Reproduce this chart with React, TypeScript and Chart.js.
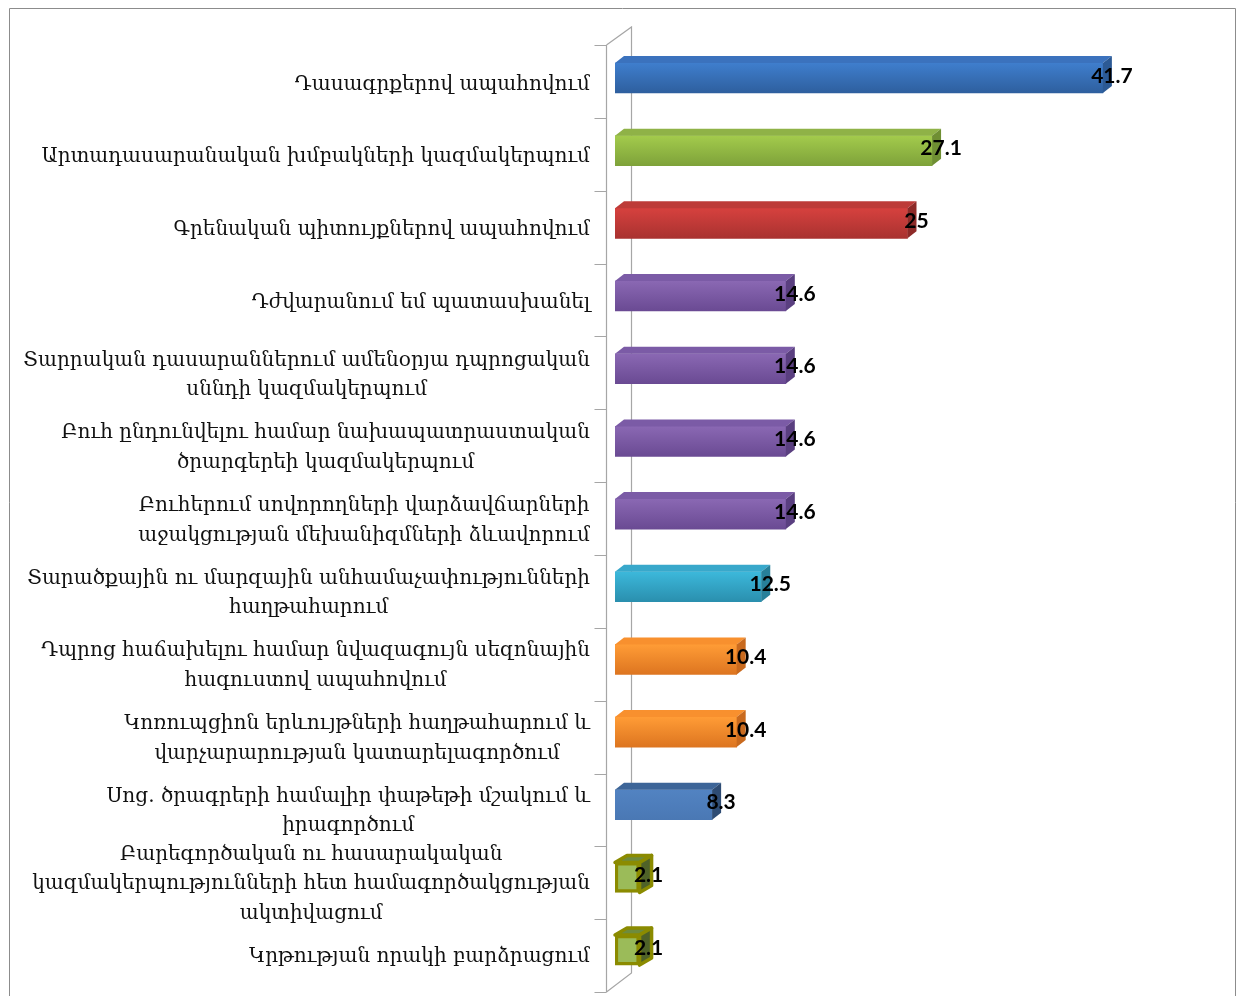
import React, { useEffect, useRef } from "react";
import { Chart, registerables } from "chart.js";

Chart.register(...registerables);

// ---- data ----
const categories: string[][] = [
  ["Դասագրքերով ապահովում"],
  ["Արտադասարանական խմբակների կազմակերպում"],
  ["Գրենական պիտույքներով ապահովում"],
  ["Դժվարանում եմ պատասխանել"],
  ["Տարրական դասարաններում ամենօրյա դպրոցական", "սննդի կազմակերպում"],
  ["Բուհ ընդունվելու համար նախապատրաստական", "ծրարգերեի կազմակերպում"],
  ["Բուհերում սովորողների վարձավճարների", "աջակցության մեխանիզմների ձևավորում"],
  ["Տարածքային ու մարզային անհամաչափությունների", "հաղթահարում"],
  ["Դպրոց հաճախելու համար նվազագույն սեզոնային", "հագուստով ապահովում"],
  ["Կոռուպցիոն երևույթների հաղթահարում և", "վարչարարության կատարելագործում"],
  ["Սոց. ծրագրերի համալիր փաթեթի մշակում և", "իրագործում"],
  ["Բարեգործական ու հասարակական", "կազմակերպությունների հետ համագործակցության", "ակտիվացում"],
  ["Կրթության որակի բարձրացում"],
];
const values: number[] = [41.7, 27.1, 25, 14.6, 14.6, 14.6, 14.6, 12.5, 10.4, 10.4, 8.3, 2.1, 2.1];
const valueLabels: string[] = values.map((v) => String(v));

// ---- styles ----
const frontTop = ["#3f7ecd", "#a3cb4c", "#d6413e", "#8a68b3", "#8a68b3", "#8a68b3", "#8a68b3", "#3cb8db", "#ff9c36", "#ff9c36", "#5283c2", "#9bbb59", "#9bbb59"];
const frontBottom = ["#2e5f9e", "#7ea23a", "#a93230", "#6a4a93", "#6a4a93", "#6a4a93", "#6a4a93", "#2a8fae", "#dd7520", "#dd7520", "#4a78b4", "#9bbb59", "#9bbb59"];
const topFace = ["#3b72bd", "#8fb247", "#bd3b38", "#7b5ba6", "#7b5ba6", "#7b5ba6", "#7b5ba6", "#38a8cb", "#f8902e", "#f8902e", "#3d6598", "#6e8b3d", "#6e8b3d"];
const sideFace = ["#2c5a95", "#6f8f33", "#8e2a28", "#5a3f80", "#5a3f80", "#5a3f80", "#5a3f80", "#27809a", "#c96a1e", "#c96a1e", "#2e4c74", "#4f6228", "#4f6228"];
const borderCol = ["", "", "", "", "", "", "", "", "", "", "", "#8b8b00", "#8b8b00"];
const DX = 9;
const DY = 7;
const LABEL_FONT = "20px 'DejaVu Serif'";
const VALUE_FONT = "bold 21px Lato";

const threeD = {
  id: "threeD",
  beforeDatasetsDraw(chart: any) {
    const ctx = chart.ctx;
    const xs = chart.scales.x;
    const ys = chart.scales.y;
    const n = categories.length;
    const band = (ys.bottom - ys.top) / n;
    const x0 = xs.getPixelForValue(0);
    const fx = Math.round(x0 - 9) + 0.5;
    const bx = fx + 25;
    const fTop = ys.top + 3.3;
    const fBot = ys.top + 3.3 + n * band * 1.0025;
    ctx.save();
    ctx.strokeStyle = "#a6a6a6";
    ctx.lineWidth = 1.2;
    ctx.beginPath();
    ctx.moveTo(fx, fTop);
    ctx.lineTo(fx, fBot);
    ctx.moveTo(fx, fTop);
    ctx.lineTo(bx, fTop - 18);
    ctx.lineTo(bx, fBot - 19);
    ctx.lineTo(fx, fBot);
    for (let i = 0; i <= n; i++) {
      const ty = Math.round(fTop + i * band * 1.0025) + 0.5;
      ctx.moveTo(fx - 12, ty);
      ctx.lineTo(fx, ty);
    }
    ctx.stroke();
    ctx.restore();
  },
  afterDatasetsDraw(chart: any) {
    const ctx = chart.ctx;
    const meta = chart.getDatasetMeta(0);
    ctx.save();
    meta.data.forEach((el: any, i: number) => {
      const x = el.x;
      const base = el.base;
      const h = el.height;
      const t = el.y - h / 2;
      const b = el.y + h / 2;
      const bw = borderCol[i] ? 3.5 : 0;
      const dx = bw ? DX + 3 : DX;
      // top face
      ctx.beginPath();
      ctx.moveTo(base, t);
      ctx.lineTo(base + dx, t - DY);
      ctx.lineTo(x + dx, t - DY);
      ctx.lineTo(x, t);
      ctx.closePath();
      ctx.fillStyle = topFace[i];
      ctx.fill();
      if (bw) {
        ctx.lineWidth = bw;
        ctx.lineJoin = "round";
        ctx.strokeStyle = borderCol[i];
        ctx.stroke();
      }
      // side face
      ctx.beginPath();
      ctx.moveTo(x, t);
      ctx.lineTo(x + dx, t - DY);
      ctx.lineTo(x + dx, b - DY);
      ctx.lineTo(x, b);
      ctx.closePath();
      ctx.fillStyle = sideFace[i];
      ctx.fill();
      if (bw) {
        ctx.lineWidth = bw;
        ctx.strokeStyle = borderCol[i];
        ctx.stroke();
      }
    });
    ctx.restore();
  },
  afterDraw(chart: any) {
    const ctx = chart.ctx;
    const meta = chart.getDatasetMeta(0);
    const W = chart.width;
    const H = chart.height;
    ctx.save();
    // outer border
    ctx.strokeStyle = "#8c8c8c";
    ctx.lineWidth = 1;
    ctx.beginPath();
    ctx.moveTo(1.5, H + 2);
    ctx.lineTo(1.5, 0.5);
    ctx.lineTo(W - 0.5, 0.5);
    ctx.lineTo(W - 0.5, H + 2);
    ctx.stroke();

    // value labels
    ctx.fillStyle = "#000";
    ctx.font = VALUE_FONT;
    ctx.textAlign = "center";
    ctx.textBaseline = "middle";
    meta.data.forEach((el: any, i: number) => {
      ctx.fillText(valueLabels[i], el.x + 9, el.y - 2);
    });

    // category labels
    ctx.font = LABEL_FONT;
    ctx.fillStyle = "#111";
    const right = 582;
    const lh = 29.5;
    meta.data.forEach((el: any, i: number) => {
      const lines = categories[i];
      const widths = lines.map((l) => ctx.measureText(l).width);
      const bw = Math.max(...widths);
      const cx = right - bw / 2;
      const cy = el.y + 6.5;
      lines.forEach((l, k) => {
        const ly = cy + (k - (lines.length - 1) / 2) * lh;
        ctx.fillText(l, cx, ly);
      });
    });
    ctx.restore();
  },
};

export default function App() {
  const ref = useRef<HTMLCanvasElement | null>(null);
  useEffect(() => {
    document.body.style.marginRight = "0px";
    if (!ref.current) return;
    const chart = new Chart(ref.current, {
      type: "bar",
      data: {
        labels: categories.map((c) => c.join(" ")),
        datasets: [
          {
            data: values,
            backgroundColor: (c: any) => {
              const i = c.dataIndex;
              const ch = c.chart;
              if (!ch.chartArea || i === undefined) return frontTop[i ?? 0];
              const y = ch.scales.y.getPixelForValue(i);
              const g = ch.ctx.createLinearGradient(0, y - 15, 0, y + 15);
              g.addColorStop(0, frontTop[i]);
              g.addColorStop(1, frontBottom[i]);
              return g;
            },
            borderColor: borderCol.map((c) => c || "rgba(0,0,0,0)"),
            borderWidth: borderCol.map((c) => (c ? 3.5 : 0)),
            borderSkipped: false,
            barThickness: 30,
          },
        ],
      },
      options: {
        indexAxis: "y",
        responsive: false,
        animation: false,
        layout: { padding: { left: 607, right: 36, top: 33.7, bottom: 9.6 } },
        scales: {
          x: { display: false, min: 0, max: 50 },
          y: { display: false, grid: { display: false } },
        },
        plugins: {
          legend: { display: false },
          tooltip: { enabled: false },
        },
      },
      plugins: [threeD],
    } as any);
    return () => chart.destroy();
  }, []);
  return <canvas ref={ref} width={1228} height={988} style={{ display: "block" }} />;
}
